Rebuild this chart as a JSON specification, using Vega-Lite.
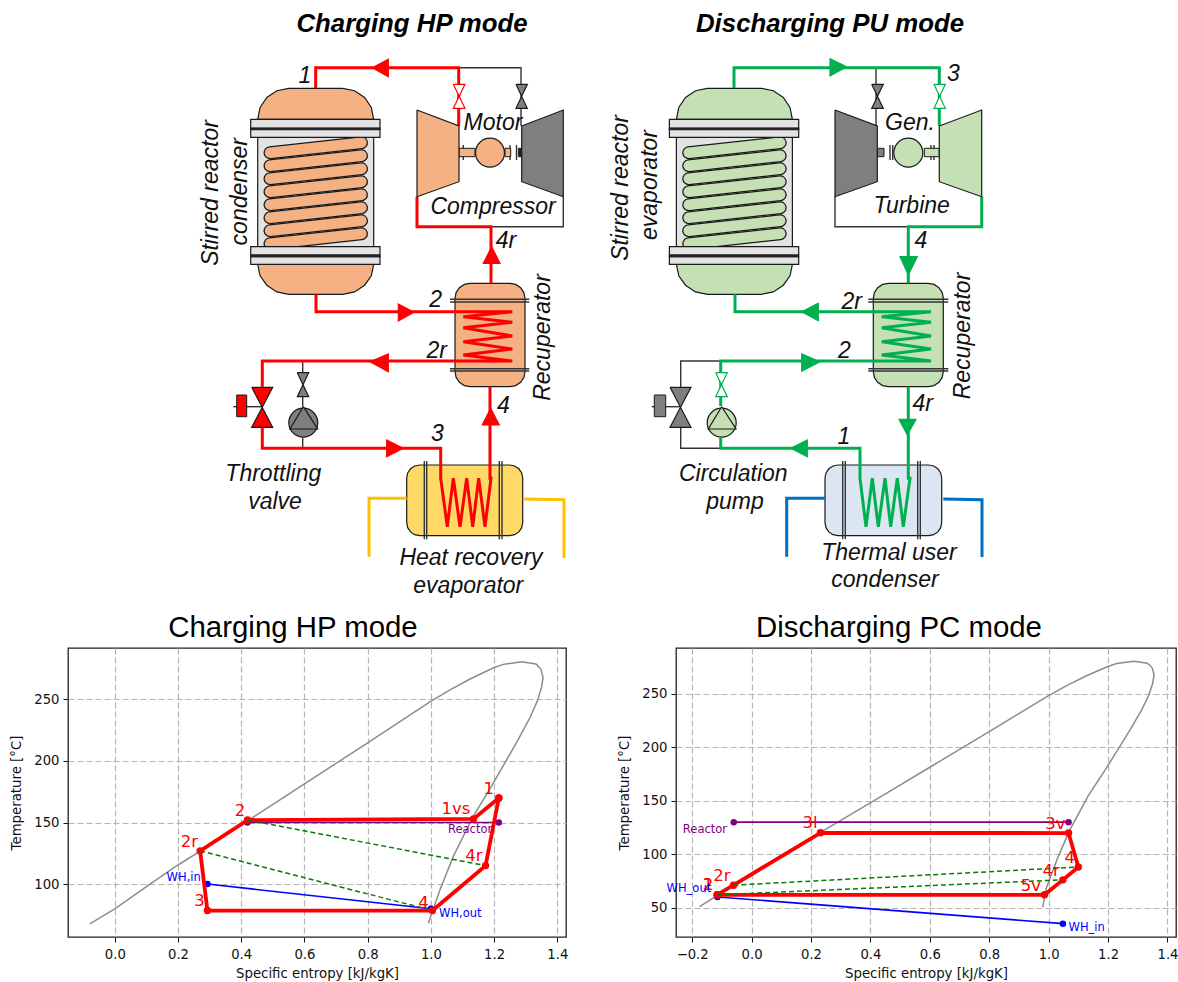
{"$schema":"https://vega.github.io/schema/vega-lite/v6.json","padding":0,"bounds":"flush","spacing":38,
"config":{"view":{"stroke":null},"axis":{"labelFont":"DejaVu Sans","labelFontSize":13.2,"labelColor":"#111","titleFont":"DejaVu Sans","titleFontSize":13.3,"titleFontWeight":"normal","titleColor":"#111","tickColor":"#111","tickSize":5,"domain":false,"grid":true,"gridColor":"#b4b4b4","gridDash":[6,3],"gridWidth":1.2,"labelFlush":false},"axisX":{"labelPadding":6,"titlePadding":6},"axisY":{"labelPadding":4,"titlePadding":10},"title":{"font":"Liberation Sans","fontSize":29.4,"fontWeight":"normal","color":"#000"}},
"datasets":{
"backPolys":[
{"id":"d1","k":"o","i":0,"x":257.7,"y":119.3},{"id":"d1","k":"o","i":1,"x":260.1,"y":107.4},{"id":"d1","k":"o","i":2,"x":266.8,"y":97.4},{"id":"d1","k":"o","i":3,"x":276.8,"y":90.7},{"id":"d1","k":"o","i":4,"x":288.7,"y":88.3},{"id":"d1","k":"o","i":5,"x":342.7,"y":88.3},{"id":"d1","k":"o","i":6,"x":354.6,"y":90.7},{"id":"d1","k":"o","i":7,"x":364.6,"y":97.4},{"id":"d1","k":"o","i":8,"x":371.3,"y":107.4},{"id":"d1","k":"o","i":9,"x":373.7,"y":119.3},{"id":"d1","k":"o","i":10,"x":257.7,"y":119.3},
{"id":"d2","k":"o","i":0,"x":257.7,"y":264.3},{"id":"d2","k":"o","i":1,"x":260.1,"y":275.8},{"id":"d2","k":"o","i":2,"x":266.8,"y":285.2},{"id":"d2","k":"o","i":3,"x":276.8,"y":291.9},{"id":"d2","k":"o","i":4,"x":288.7,"y":294.3},{"id":"d2","k":"o","i":5,"x":342.7,"y":294.3},{"id":"d2","k":"o","i":6,"x":354.6,"y":291.9},{"id":"d2","k":"o","i":7,"x":364.6,"y":285.2},{"id":"d2","k":"o","i":8,"x":371.3,"y":275.8},{"id":"d2","k":"o","i":9,"x":373.7,"y":264.3},{"id":"d2","k":"o","i":10,"x":257.7,"y":264.3},
{"id":"d3","k":"g","i":0,"x":676.4,"y":119.3},{"id":"d3","k":"g","i":1,"x":678.8,"y":107.4},{"id":"d3","k":"g","i":2,"x":685.5,"y":97.4},{"id":"d3","k":"g","i":3,"x":695.5,"y":90.7},{"id":"d3","k":"g","i":4,"x":707.4,"y":88.3},{"id":"d3","k":"g","i":5,"x":761.4,"y":88.3},{"id":"d3","k":"g","i":6,"x":773.3,"y":90.7},{"id":"d3","k":"g","i":7,"x":783.3,"y":97.4},{"id":"d3","k":"g","i":8,"x":790,"y":107.4},{"id":"d3","k":"g","i":9,"x":792.4,"y":119.3},{"id":"d3","k":"g","i":10,"x":676.4,"y":119.3},
{"id":"d4","k":"g","i":0,"x":676.4,"y":264.3},{"id":"d4","k":"g","i":1,"x":678.8,"y":275.8},{"id":"d4","k":"g","i":2,"x":685.5,"y":285.2},{"id":"d4","k":"g","i":3,"x":695.5,"y":291.9},{"id":"d4","k":"g","i":4,"x":707.4,"y":294.3},{"id":"d4","k":"g","i":5,"x":761.4,"y":294.3},{"id":"d4","k":"g","i":6,"x":773.3,"y":291.9},{"id":"d4","k":"g","i":7,"x":783.3,"y":285.2},{"id":"d4","k":"g","i":8,"x":790,"y":275.8},{"id":"d4","k":"g","i":9,"x":792.4,"y":264.3},{"id":"d4","k":"g","i":10,"x":676.4,"y":264.3},
{"id":"r1","k":"o","i":0,"x":455,"y":298.3},{"id":"r1","k":"o","i":1,"x":456.1,"y":292.6},{"id":"r1","k":"o","i":2,"x":459.4,"y":287.7},{"id":"r1","k":"o","i":3,"x":464.3,"y":284.4},{"id":"r1","k":"o","i":4,"x":470,"y":283.3},{"id":"r1","k":"o","i":5,"x":510,"y":283.3},{"id":"r1","k":"o","i":6,"x":515.7,"y":284.4},{"id":"r1","k":"o","i":7,"x":520.6,"y":287.7},{"id":"r1","k":"o","i":8,"x":523.9,"y":292.6},{"id":"r1","k":"o","i":9,"x":525,"y":298.3},{"id":"r1","k":"o","i":10,"x":525,"y":371.7},{"id":"r1","k":"o","i":11,"x":523.9,"y":377.4},{"id":"r1","k":"o","i":12,"x":520.6,"y":382.3},{"id":"r1","k":"o","i":13,"x":515.7,"y":385.6},{"id":"r1","k":"o","i":14,"x":510,"y":386.7},{"id":"r1","k":"o","i":15,"x":470,"y":386.7},{"id":"r1","k":"o","i":16,"x":464.3,"y":385.6},{"id":"r1","k":"o","i":17,"x":459.4,"y":382.3},{"id":"r1","k":"o","i":18,"x":456.1,"y":377.4},{"id":"r1","k":"o","i":19,"x":455,"y":371.7},{"id":"r1","k":"o","i":20,"x":455,"y":298.3},
{"id":"r2","k":"g","i":0,"x":873.3,"y":298.3},{"id":"r2","k":"g","i":1,"x":874.4,"y":292.6},{"id":"r2","k":"g","i":2,"x":877.7,"y":287.7},{"id":"r2","k":"g","i":3,"x":882.6,"y":284.4},{"id":"r2","k":"g","i":4,"x":888.3,"y":283.3},{"id":"r2","k":"g","i":5,"x":928.3,"y":283.3},{"id":"r2","k":"g","i":6,"x":934,"y":284.4},{"id":"r2","k":"g","i":7,"x":938.9,"y":287.7},{"id":"r2","k":"g","i":8,"x":942.2,"y":292.6},{"id":"r2","k":"g","i":9,"x":943.3,"y":298.3},{"id":"r2","k":"g","i":10,"x":943.3,"y":371.7},{"id":"r2","k":"g","i":11,"x":942.2,"y":377.4},{"id":"r2","k":"g","i":12,"x":938.9,"y":382.3},{"id":"r2","k":"g","i":13,"x":934,"y":385.6},{"id":"r2","k":"g","i":14,"x":928.3,"y":386.7},{"id":"r2","k":"g","i":15,"x":888.3,"y":386.7},{"id":"r2","k":"g","i":16,"x":882.6,"y":385.6},{"id":"r2","k":"g","i":17,"x":877.7,"y":382.3},{"id":"r2","k":"g","i":18,"x":874.4,"y":377.4},{"id":"r2","k":"g","i":19,"x":873.3,"y":371.7},{"id":"r2","k":"g","i":20,"x":873.3,"y":298.3},
{"id":"e1","k":"y","i":0,"x":406.7,"y":478},{"id":"e1","k":"y","i":1,"x":407.7,"y":473},{"id":"e1","k":"y","i":2,"x":410.5,"y":468.8},{"id":"e1","k":"y","i":3,"x":414.7,"y":466},{"id":"e1","k":"y","i":4,"x":419.7,"y":465},{"id":"e1","k":"y","i":5,"x":509.7,"y":465},{"id":"e1","k":"y","i":6,"x":514.7,"y":466},{"id":"e1","k":"y","i":7,"x":518.9,"y":468.8},{"id":"e1","k":"y","i":8,"x":521.7,"y":473},{"id":"e1","k":"y","i":9,"x":522.7,"y":478},{"id":"e1","k":"y","i":10,"x":522.7,"y":522.7},{"id":"e1","k":"y","i":11,"x":521.7,"y":527.7},{"id":"e1","k":"y","i":12,"x":518.9,"y":531.9},{"id":"e1","k":"y","i":13,"x":514.7,"y":534.7},{"id":"e1","k":"y","i":14,"x":509.7,"y":535.7},{"id":"e1","k":"y","i":15,"x":419.7,"y":535.7},{"id":"e1","k":"y","i":16,"x":414.7,"y":534.7},{"id":"e1","k":"y","i":17,"x":410.5,"y":531.9},{"id":"e1","k":"y","i":18,"x":407.7,"y":527.7},{"id":"e1","k":"y","i":19,"x":406.7,"y":522.7},{"id":"e1","k":"y","i":20,"x":406.7,"y":478},
{"id":"e2","k":"b","i":0,"x":825,"y":478},{"id":"e2","k":"b","i":1,"x":826,"y":473},{"id":"e2","k":"b","i":2,"x":828.8,"y":468.8},{"id":"e2","k":"b","i":3,"x":833,"y":466},{"id":"e2","k":"b","i":4,"x":838,"y":465},{"id":"e2","k":"b","i":5,"x":928.7,"y":465},{"id":"e2","k":"b","i":6,"x":933.7,"y":466},{"id":"e2","k":"b","i":7,"x":937.9,"y":468.8},{"id":"e2","k":"b","i":8,"x":940.7,"y":473},{"id":"e2","k":"b","i":9,"x":941.7,"y":478},{"id":"e2","k":"b","i":10,"x":941.7,"y":522.7},{"id":"e2","k":"b","i":11,"x":940.7,"y":527.7},{"id":"e2","k":"b","i":12,"x":937.9,"y":531.9},{"id":"e2","k":"b","i":13,"x":933.7,"y":534.7},{"id":"e2","k":"b","i":14,"x":928.7,"y":535.7},{"id":"e2","k":"b","i":15,"x":838,"y":535.7},{"id":"e2","k":"b","i":16,"x":833,"y":534.7},{"id":"e2","k":"b","i":17,"x":828.8,"y":531.9},{"id":"e2","k":"b","i":18,"x":826,"y":527.7},{"id":"e2","k":"b","i":19,"x":825,"y":522.7},{"id":"e2","k":"b","i":20,"x":825,"y":478}
],
"bodies":[{"x":257.7,"x2":373.7,"y":137,"y2":247,"k":"l"},{"x":676.4,"x2":792.4,"y":137,"y2":247,"k":"l"}],
"coils":[
{"id":"c0","k":"o","i":0,"x":270,"y":152.7},{"id":"c0","k":"o","i":1,"x":361.5,"y":142.7},{"id":"c1","k":"o","i":0,"x":270,"y":165.7},{"id":"c1","k":"o","i":1,"x":361.5,"y":155.7},{"id":"c2","k":"o","i":0,"x":270,"y":178.7},{"id":"c2","k":"o","i":1,"x":361.5,"y":168.7},{"id":"c3","k":"o","i":0,"x":270,"y":191.7},{"id":"c3","k":"o","i":1,"x":361.5,"y":181.7},{"id":"c4","k":"o","i":0,"x":270,"y":204.7},{"id":"c4","k":"o","i":1,"x":361.5,"y":194.7},{"id":"c5","k":"o","i":0,"x":270,"y":217.7},{"id":"c5","k":"o","i":1,"x":361.5,"y":207.7},{"id":"c6","k":"o","i":0,"x":270,"y":230.7},{"id":"c6","k":"o","i":1,"x":361.5,"y":220.7},{"id":"c7","k":"o","i":0,"x":270,"y":243.7},{"id":"c7","k":"o","i":1,"x":361.5,"y":233.7},
{"id":"g0","k":"g","i":0,"x":688.7,"y":152.7},{"id":"g0","k":"g","i":1,"x":780.2,"y":142.7},{"id":"g1","k":"g","i":0,"x":688.7,"y":165.7},{"id":"g1","k":"g","i":1,"x":780.2,"y":155.7},{"id":"g2","k":"g","i":0,"x":688.7,"y":178.7},{"id":"g2","k":"g","i":1,"x":780.2,"y":168.7},{"id":"g3","k":"g","i":0,"x":688.7,"y":191.7},{"id":"g3","k":"g","i":1,"x":780.2,"y":181.7},{"id":"g4","k":"g","i":0,"x":688.7,"y":204.7},{"id":"g4","k":"g","i":1,"x":780.2,"y":194.7},{"id":"g5","k":"g","i":0,"x":688.7,"y":217.7},{"id":"g5","k":"g","i":1,"x":780.2,"y":207.7},{"id":"g6","k":"g","i":0,"x":688.7,"y":230.7},{"id":"g6","k":"g","i":1,"x":780.2,"y":220.7},{"id":"g7","k":"g","i":0,"x":688.7,"y":243.7},{"id":"g7","k":"g","i":1,"x":780.2,"y":233.7}
],
"flanges":[
{"x":250.7,"x2":380,"y":119.3,"y2":128.3,"k":"l"},{"x":250.7,"x2":380,"y":129.3,"y2":137.3,"k":"l"},{"x":250.7,"x2":380,"y":128,"y2":129.6,"k":"d"},{"x":250.7,"x2":380,"y":246.7,"y2":255,"k":"l"},{"x":250.7,"x2":380,"y":256.7,"y2":264.3,"k":"l"},{"x":250.7,"x2":380,"y":255,"y2":256.7,"k":"d"},
{"x":669.4,"x2":798.7,"y":119.3,"y2":128.3,"k":"l"},{"x":669.4,"x2":798.7,"y":129.3,"y2":137.3,"k":"l"},{"x":669.4,"x2":798.7,"y":128,"y2":129.6,"k":"d"},{"x":669.4,"x2":798.7,"y":246.7,"y2":255,"k":"l"},{"x":669.4,"x2":798.7,"y":256.7,"y2":264.3,"k":"l"},{"x":669.4,"x2":798.7,"y":255,"y2":256.7,"k":"d"}
],
"thin":[
{"id":"a","i":0,"x":458.7,"y":67.7},{"id":"a","i":1,"x":521,"y":67.7},{"id":"a","i":2,"x":521,"y":126},
{"id":"b","i":0,"x":491,"y":226.7},{"id":"b","i":1,"x":563.3,"y":226.7},{"id":"b","i":2,"x":563.3,"y":196.7},
{"id":"c","i":0,"x":302.7,"y":361},{"id":"c","i":1,"x":302.7,"y":406.7},
{"id":"d","i":0,"x":302.7,"y":438},{"id":"d","i":1,"x":302.7,"y":448.3},
{"id":"e","i":0,"x":233.3,"y":406.7},{"id":"e","i":1,"x":262.3,"y":406.7},
{"id":"f","i":0,"x":463.3,"y":145},{"id":"f","i":1,"x":463.3,"y":160},
{"id":"g","i":0,"x":510,"y":145},{"id":"g","i":1,"x":510,"y":160},
{"id":"h","i":0,"x":516.5,"y":145},{"id":"h","i":1,"x":516.5,"y":160},
{"id":"j","i":0,"x":450,"y":299.3},{"id":"j","i":1,"x":529.3,"y":299.3},
{"id":"k","i":0,"x":450,"y":302},{"id":"k","i":1,"x":529.3,"y":302},
{"id":"l","i":0,"x":450,"y":368.7},{"id":"l","i":1,"x":529.3,"y":368.7},
{"id":"m","i":0,"x":450,"y":371},{"id":"m","i":1,"x":529.3,"y":371},
{"id":"n","i":0,"x":424.3,"y":461},{"id":"n","i":1,"x":424.3,"y":539.3},
{"id":"o","i":0,"x":426.7,"y":461},{"id":"o","i":1,"x":426.7,"y":539.3},
{"id":"p","i":0,"x":499.3,"y":461},{"id":"p","i":1,"x":499.3,"y":539.3},
{"id":"q","i":0,"x":502,"y":461},{"id":"q","i":1,"x":502,"y":539.3},
{"id":"A","i":0,"x":876,"y":67.7},{"id":"A","i":1,"x":876,"y":126},
{"id":"B","i":0,"x":835,"y":196.7},{"id":"B","i":1,"x":835,"y":226.7},{"id":"B","i":2,"x":908.3,"y":226.7},
{"id":"C","i":0,"x":720.7,"y":361},{"id":"C","i":1,"x":680.7,"y":361},{"id":"C","i":2,"x":680.7,"y":387},
{"id":"D","i":0,"x":680.7,"y":427},{"id":"D","i":1,"x":680.7,"y":448.3},{"id":"D","i":2,"x":720.7,"y":448.3},
{"id":"E","i":0,"x":651.7,"y":406.7},{"id":"E","i":1,"x":680.7,"y":406.7},
{"id":"F","i":0,"x":890,"y":145},{"id":"F","i":1,"x":890,"y":160},
{"id":"G","i":0,"x":892.7,"y":145},{"id":"G","i":1,"x":892.7,"y":160},
{"id":"H","i":0,"x":931,"y":145},{"id":"H","i":1,"x":931,"y":160},
{"id":"I","i":0,"x":934,"y":145},{"id":"I","i":1,"x":934,"y":160},
{"id":"J","i":0,"x":868.3,"y":299.3},{"id":"J","i":1,"x":948.3,"y":299.3},
{"id":"K","i":0,"x":868.3,"y":302},{"id":"K","i":1,"x":948.3,"y":302},
{"id":"L","i":0,"x":868.3,"y":368.7},{"id":"L","i":1,"x":948.3,"y":368.7},
{"id":"M","i":0,"x":868.3,"y":371},{"id":"M","i":1,"x":948.3,"y":371},
{"id":"N","i":0,"x":842.7,"y":461},{"id":"N","i":1,"x":842.7,"y":539.3},
{"id":"O","i":0,"x":845.3,"y":461},{"id":"O","i":1,"x":845.3,"y":539.3},
{"id":"P","i":0,"x":917.7,"y":461},{"id":"P","i":1,"x":917.7,"y":539.3},
{"id":"Q","i":0,"x":920.3,"y":461},{"id":"Q","i":1,"x":920.3,"y":539.3}
],
"pipes":[
{"id":"p1","k":"red","i":0,"x":315.7,"y":88},{"id":"p1","k":"red","i":1,"x":315.7,"y":67.7},{"id":"p1","k":"red","i":2,"x":458.7,"y":67.7},{"id":"p1","k":"red","i":3,"x":458.7,"y":126},
{"id":"p2","k":"red","i":0,"x":417,"y":196.7},{"id":"p2","k":"red","i":1,"x":417,"y":226.7},{"id":"p2","k":"red","i":2,"x":491,"y":226.7},{"id":"p2","k":"red","i":3,"x":491,"y":283.3},
{"id":"p3","k":"red","i":0,"x":316,"y":294.3},{"id":"p3","k":"red","i":1,"x":316,"y":311.7},{"id":"p3","k":"red","i":2,"x":512.3,"y":311.7},{"id":"p3","k":"red","i":3,"x":463.3,"y":316.7},{"id":"p3","k":"red","i":4,"x":512.3,"y":322.3},{"id":"p3","k":"red","i":5,"x":463.3,"y":327.7},{"id":"p3","k":"red","i":6,"x":512.3,"y":336},{"id":"p3","k":"red","i":7,"x":463.3,"y":341.7},{"id":"p3","k":"red","i":8,"x":512.3,"y":349},{"id":"p3","k":"red","i":9,"x":463.3,"y":355},{"id":"p3","k":"red","i":10,"x":512.3,"y":361},{"id":"p3","k":"red","i":11,"x":262.3,"y":361},{"id":"p3","k":"red","i":12,"x":262.3,"y":386.7},
{"id":"p4","k":"red","i":0,"x":262.3,"y":427},{"id":"p4","k":"red","i":1,"x":262.3,"y":448.3},{"id":"p4","k":"red","i":2,"x":440.7,"y":448.3},{"id":"p4","k":"red","i":3,"x":440.7,"y":478.3},{"id":"p4","k":"red","i":4,"x":447.3,"y":526.7},{"id":"p4","k":"red","i":5,"x":453.3,"y":478.3},{"id":"p4","k":"red","i":6,"x":460,"y":526.7},{"id":"p4","k":"red","i":7,"x":466.7,"y":478.3},{"id":"p4","k":"red","i":8,"x":472.7,"y":526.7},{"id":"p4","k":"red","i":9,"x":478.7,"y":478.3},{"id":"p4","k":"red","i":10,"x":485,"y":526.7},{"id":"p4","k":"red","i":11,"x":491,"y":478.3},{"id":"p4","k":"red","i":12,"x":490,"y":478.3},{"id":"p4","k":"red","i":13,"x":490,"y":386.7},
{"id":"y1","k":"yellow","i":0,"x":406.7,"y":498.3},{"id":"y1","k":"yellow","i":1,"x":369,"y":498.3},{"id":"y1","k":"yellow","i":2,"x":369,"y":556.7},
{"id":"y2","k":"yellow","i":0,"x":524.3,"y":499},{"id":"y2","k":"yellow","i":1,"x":564,"y":499.7},{"id":"y2","k":"yellow","i":2,"x":564,"y":558},
{"id":"q1","k":"green","i":0,"x":734,"y":88},{"id":"q1","k":"green","i":1,"x":734,"y":67.7},{"id":"q1","k":"green","i":2,"x":939.3,"y":67.7},{"id":"q1","k":"green","i":3,"x":939.3,"y":126},
{"id":"q2","k":"green","i":0,"x":981.7,"y":196.7},{"id":"q2","k":"green","i":1,"x":981.7,"y":226.7},{"id":"q2","k":"green","i":2,"x":908.3,"y":226.7},{"id":"q2","k":"green","i":3,"x":908.3,"y":283.3},
{"id":"q3","k":"green","i":0,"x":735,"y":294.3},{"id":"q3","k":"green","i":1,"x":735,"y":311.7},{"id":"q3","k":"green","i":2,"x":931,"y":311.7},{"id":"q3","k":"green","i":3,"x":881.7,"y":316.7},{"id":"q3","k":"green","i":4,"x":931,"y":322.3},{"id":"q3","k":"green","i":5,"x":881.7,"y":327.7},{"id":"q3","k":"green","i":6,"x":931,"y":336},{"id":"q3","k":"green","i":7,"x":881.7,"y":341.7},{"id":"q3","k":"green","i":8,"x":931,"y":349},{"id":"q3","k":"green","i":9,"x":881.7,"y":355},{"id":"q3","k":"green","i":10,"x":931,"y":361},{"id":"q3","k":"green","i":11,"x":720.7,"y":361},{"id":"q3","k":"green","i":12,"x":720.7,"y":406},
{"id":"q4","k":"green","i":0,"x":720.7,"y":438},{"id":"q4","k":"green","i":1,"x":720.7,"y":448.3},{"id":"q4","k":"green","i":2,"x":860,"y":448.3},{"id":"q4","k":"green","i":3,"x":860,"y":478.3},{"id":"q4","k":"green","i":4,"x":866,"y":526.7},{"id":"q4","k":"green","i":5,"x":872.3,"y":478.3},{"id":"q4","k":"green","i":6,"x":878.3,"y":526.7},{"id":"q4","k":"green","i":7,"x":885,"y":478.3},{"id":"q4","k":"green","i":8,"x":890.7,"y":526.7},{"id":"q4","k":"green","i":9,"x":897.3,"y":478.3},{"id":"q4","k":"green","i":10,"x":903.3,"y":526.7},{"id":"q4","k":"green","i":11,"x":910,"y":478.3},{"id":"q4","k":"green","i":12,"x":908.3,"y":478.3},{"id":"q4","k":"green","i":13,"x":908.3,"y":386.7},
{"id":"b1","k":"blue","i":0,"x":825,"y":498.3},{"id":"b1","k":"blue","i":1,"x":786.7,"y":498.3},{"id":"b1","k":"blue","i":2,"x":786.7,"y":556.7},
{"id":"b2","k":"blue","i":0,"x":943.3,"y":499},{"id":"b2","k":"blue","i":1,"x":982,"y":499.7},{"id":"b2","k":"blue","i":2,"x":982,"y":557}
],
"smallRects":[
{"x":459,"x2":475,"y":148.3,"y2":156.7,"k":"o"},{"x":505,"x2":510.7,"y":148.3,"y2":156.7,"k":"o"},{"x":518.3,"x2":521.7,"y":148.3,"y2":156.7,"k":"d"},{"x":236.7,"x2":246.7,"y":395,"y2":416.7,"k":"r"},
{"x":877.3,"x2":884,"y":148.3,"y2":156.7,"k":"h"},{"x":924.3,"x2":939.3,"y":148.3,"y2":156.7,"k":"g"},{"x":654.3,"x2":665.7,"y":395,"y2":416.7,"k":"h"}
],
"circles":[{"x":490,"y":152.7,"k":"o"},{"x":303.3,"y":422.7,"k":"h"},{"x":908.3,"y":152.7,"k":"g"},{"x":721.7,"y":422.7,"k":"g"}],
"frontPolys":[
{"id":"t1","k":"o","i":0,"x":417,"y":110},{"id":"t1","k":"o","i":1,"x":459,"y":126},{"id":"t1","k":"o","i":2,"x":459,"y":181.7},{"id":"t1","k":"o","i":3,"x":417,"y":196.7},{"id":"t1","k":"o","i":4,"x":417,"y":110},
{"id":"t2","k":"h","i":0,"x":521.7,"y":126},{"id":"t2","k":"h","i":1,"x":563.3,"y":110},{"id":"t2","k":"h","i":2,"x":563.3,"y":196.7},{"id":"t2","k":"h","i":3,"x":521.7,"y":181.7},{"id":"t2","k":"h","i":4,"x":521.7,"y":126},
{"id":"t3","k":"h","i":0,"x":835,"y":110},{"id":"t3","k":"h","i":1,"x":877.3,"y":126},{"id":"t3","k":"h","i":2,"x":877.3,"y":181.7},{"id":"t3","k":"h","i":3,"x":835,"y":196.7},{"id":"t3","k":"h","i":4,"x":835,"y":110},
{"id":"t4","k":"g","i":0,"x":939.3,"y":126},{"id":"t4","k":"g","i":1,"x":981.7,"y":110},{"id":"t4","k":"g","i":2,"x":981.7,"y":196.7},{"id":"t4","k":"g","i":3,"x":939.3,"y":181.7},{"id":"t4","k":"g","i":4,"x":939.3,"y":126},
{"id":"v1","k":"wr","i":0,"x":453.3,"y":84.3},{"id":"v1","k":"wr","i":1,"x":465,"y":84.3},{"id":"v1","k":"wr","i":2,"x":453.3,"y":108.3},{"id":"v1","k":"wr","i":3,"x":465,"y":108.3},{"id":"v1","k":"wr","i":4,"x":453.3,"y":84.3},
{"id":"v2","k":"h","i":0,"x":516,"y":84.3},{"id":"v2","k":"h","i":1,"x":527.3,"y":84.3},{"id":"v2","k":"h","i":2,"x":516,"y":108.3},{"id":"v2","k":"h","i":3,"x":527.3,"y":108.3},{"id":"v2","k":"h","i":4,"x":516,"y":84.3},
{"id":"v3","k":"h","i":0,"x":297.3,"y":372.7},{"id":"v3","k":"h","i":1,"x":308.7,"y":372.7},{"id":"v3","k":"h","i":2,"x":297.3,"y":396.7},{"id":"v3","k":"h","i":3,"x":308.7,"y":396.7},{"id":"v3","k":"h","i":4,"x":297.3,"y":372.7},
{"id":"v4","k":"r","i":0,"x":251.7,"y":387.3},{"id":"v4","k":"r","i":1,"x":272.7,"y":387.3},{"id":"v4","k":"r","i":2,"x":251.7,"y":427.3},{"id":"v4","k":"r","i":3,"x":272.7,"y":427.3},{"id":"v4","k":"r","i":4,"x":251.7,"y":387.3},
{"id":"v5","k":"h","i":0,"x":871.7,"y":84.3},{"id":"v5","k":"h","i":1,"x":883.3,"y":84.3},{"id":"v5","k":"h","i":2,"x":871.7,"y":108.3},{"id":"v5","k":"h","i":3,"x":883.3,"y":108.3},{"id":"v5","k":"h","i":4,"x":871.7,"y":84.3},
{"id":"v6","k":"wg","i":0,"x":934,"y":84.3},{"id":"v6","k":"wg","i":1,"x":945.3,"y":84.3},{"id":"v6","k":"wg","i":2,"x":934,"y":108.3},{"id":"v6","k":"wg","i":3,"x":945.3,"y":108.3},{"id":"v6","k":"wg","i":4,"x":934,"y":84.3},
{"id":"v7","k":"wg","i":0,"x":715.7,"y":372.7},{"id":"v7","k":"wg","i":1,"x":727.3,"y":372.7},{"id":"v7","k":"wg","i":2,"x":715.7,"y":396.7},{"id":"v7","k":"wg","i":3,"x":727.3,"y":396.7},{"id":"v7","k":"wg","i":4,"x":715.7,"y":372.7},
{"id":"v8","k":"h","i":0,"x":670,"y":387.3},{"id":"v8","k":"h","i":1,"x":691,"y":387.3},{"id":"v8","k":"h","i":2,"x":670,"y":427.3},{"id":"v8","k":"h","i":3,"x":691,"y":427.3},{"id":"v8","k":"h","i":4,"x":670,"y":387.3},
{"id":"u1","k":"h","i":0,"x":303.3,"y":406.7},{"id":"u1","k":"h","i":1,"x":290,"y":429},{"id":"u1","k":"h","i":2,"x":317.7,"y":429},{"id":"u1","k":"h","i":3,"x":303.3,"y":406.7},
{"id":"u2","k":"g","i":0,"x":721.7,"y":406.7},{"id":"u2","k":"g","i":1,"x":708.3,"y":429},{"id":"u2","k":"g","i":2,"x":736,"y":429},{"id":"u2","k":"g","i":3,"x":721.7,"y":406.7},
{"id":"a1","k":"ar","i":0,"x":372.3,"y":67.7},{"id":"a1","k":"ar","i":1,"x":388.3,"y":59.3},{"id":"a1","k":"ar","i":2,"x":388.3,"y":76.7},{"id":"a1","k":"ar","i":3,"x":372.3,"y":67.7},
{"id":"a2","k":"ar","i":0,"x":491.7,"y":246.7},{"id":"a2","k":"ar","i":1,"x":483.3,"y":263.3},{"id":"a2","k":"ar","i":2,"x":500,"y":263.3},{"id":"a2","k":"ar","i":3,"x":491.7,"y":246.7},
{"id":"a3","k":"ar","i":0,"x":414,"y":312.3},{"id":"a3","k":"ar","i":1,"x":398.3,"y":304},{"id":"a3","k":"ar","i":2,"x":398.3,"y":321},{"id":"a3","k":"ar","i":3,"x":414,"y":312.3},
{"id":"a4","k":"ar","i":0,"x":370,"y":361.7},{"id":"a4","k":"ar","i":1,"x":388.3,"y":354},{"id":"a4","k":"ar","i":2,"x":388.3,"y":371.7},{"id":"a4","k":"ar","i":3,"x":370,"y":361.7},
{"id":"a5","k":"ar","i":0,"x":403.3,"y":448.3},{"id":"a5","k":"ar","i":1,"x":386.7,"y":440},{"id":"a5","k":"ar","i":2,"x":386.7,"y":456.7},{"id":"a5","k":"ar","i":3,"x":403.3,"y":448.3},
{"id":"a6","k":"ar","i":0,"x":490.7,"y":408.3},{"id":"a6","k":"ar","i":1,"x":482.3,"y":425},{"id":"a6","k":"ar","i":2,"x":499.3,"y":425},{"id":"a6","k":"ar","i":3,"x":490.7,"y":408.3},
{"id":"a7","k":"ag","i":0,"x":846.7,"y":66.7},{"id":"a7","k":"ag","i":1,"x":830,"y":58.7},{"id":"a7","k":"ag","i":2,"x":830,"y":76},{"id":"a7","k":"ag","i":3,"x":846.7,"y":66.7},
{"id":"a8","k":"ag","i":0,"x":908.3,"y":275},{"id":"a8","k":"ag","i":1,"x":900,"y":256.7},{"id":"a8","k":"ag","i":2,"x":917.3,"y":256.7},{"id":"a8","k":"ag","i":3,"x":908.3,"y":275},
{"id":"a9","k":"ag","i":0,"x":801.7,"y":311.7},{"id":"a9","k":"ag","i":1,"x":818.3,"y":303.3},{"id":"a9","k":"ag","i":2,"x":818.3,"y":320.7},{"id":"a9","k":"ag","i":3,"x":801.7,"y":311.7},
{"id":"a10","k":"ag","i":0,"x":820,"y":361.7},{"id":"a10","k":"ag","i":1,"x":801.7,"y":354},{"id":"a10","k":"ag","i":2,"x":801.7,"y":371.3},{"id":"a10","k":"ag","i":3,"x":820,"y":361.7},
{"id":"a11","k":"ag","i":0,"x":790.7,"y":448.3},{"id":"a11","k":"ag","i":1,"x":807.3,"y":440},{"id":"a11","k":"ag","i":2,"x":807.3,"y":456.7},{"id":"a11","k":"ag","i":3,"x":790.7,"y":448.3},
{"id":"a12","k":"ag","i":0,"x":907.3,"y":435},{"id":"a12","k":"ag","i":1,"x":899,"y":419.3},{"id":"a12","k":"ag","i":2,"x":916,"y":419.3},{"id":"a12","k":"ag","i":3,"x":907.3,"y":435}
],
"labels":[
{"x":493,"y":123.3,"t":"Motor"},{"x":493,"y":206.7,"t":"Compressor"},{"x":273.3,"y":474,"t":"Throttling"},{"x":275,"y":501.7,"t":"valve"},{"x":471,"y":557.7,"t":"Heat recovery"},{"x":468.3,"y":585.7,"t":"evaporator"},
{"x":305,"y":76,"t":"1"},{"x":506,"y":241,"t":"4r"},{"x":435.7,"y":300,"t":"2"},{"x":436.7,"y":350.7,"t":"2r"},{"x":503.3,"y":406,"t":"4"},{"x":437.3,"y":434.3,"t":"3"},
{"x":910,"y":123.3,"t":"Gen."},{"x":911.7,"y":206,"t":"Turbine"},{"x":733.3,"y":474,"t":"Circulation"},{"x":735,"y":501.7,"t":"pump"},{"x":889,"y":552.7,"t":"Thermal user"},{"x":885,"y":580,"t":"condenser"},
{"x":953.3,"y":74,"t":"3"},{"x":921,"y":240.7,"t":"4"},{"x":851.7,"y":301.7,"t":"2r"},{"x":844.3,"y":350.7,"t":"2"},{"x":922.7,"y":404,"t":"4r"},{"x":844,"y":436.7,"t":"1"}
],
"rotLabels":[{"x":210.7,"y":193,"t":"Stirred reactor"},{"x":240,"y":191.7,"t":"condenser"},{"x":543,"y":337.5,"t":"Recuperator"},{"x":620.7,"y":188,"t":"Stirred reactor"},{"x":650,"y":185,"t":"evaporator"},{"x":963,"y":336,"t":"Recuperator"}],
"heads":[{"x":412,"y":24,"t":"Charging HP mode"},{"x":830,"y":24,"t":"Discharging PU mode"}],
"dome":[{"s":-0.079,"T":67.6,"i":0},{"s":0.0,"T":79.9,"i":1},{"s":0.116,"T":100.8,"i":2},{"s":0.2,"T":115.5,"i":3},{"s":0.269,"T":126.6,"i":4},{"s":0.459,"T":157.9,"i":5},{"s":0.6,"T":181.4,"i":6},{"s":0.8,"T":214.7,"i":7},{"s":0.997,"T":248,"i":8},{"s":1.0605,"T":257.8,"i":9},{"s":1.124,"T":266.6,"i":10},{"s":1.197,"T":275.5,"i":11},{"s":1.229,"T":278.5,"i":12},{"s":1.287,"T":280.7,"i":13},{"s":1.3326,"T":278.8,"i":14},{"s":1.348,"T":274.7,"i":15},{"s":1.355,"T":267.9,"i":16},{"s":1.35,"T":259.8,"i":17},{"s":1.337,"T":248.8,"i":18},{"s":1.3136,"T":235.3,"i":19},{"s":1.2766,"T":217.6,"i":20},{"s":1.2345,"T":198.6,"i":21},{"s":1.192,"T":179.6,"i":22},{"s":1.134,"T":155.1,"i":23},{"s":1.071,"T":122.5,"i":24},{"s":1.0288,"T":95.4,"i":25},{"s":0.992,"T":68.2,"i":26}],
"domeB":[{"s":-0.175,"T":51,"i":0},{"s":-0.115,"T":61.5,"i":1},{"s":0.0,"T":79.9,"i":2},{"s":0.116,"T":100.8,"i":3},{"s":0.2,"T":115.5,"i":4},{"s":0.269,"T":126.6,"i":5},{"s":0.459,"T":157.9,"i":6},{"s":0.6,"T":181.4,"i":7},{"s":0.8,"T":214.7,"i":8},{"s":0.997,"T":248,"i":9},{"s":1.0605,"T":257.8,"i":10},{"s":1.124,"T":266.6,"i":11},{"s":1.197,"T":275.5,"i":12},{"s":1.229,"T":278.5,"i":13},{"s":1.287,"T":280.7,"i":14},{"s":1.3326,"T":278.8,"i":15},{"s":1.348,"T":274.7,"i":16},{"s":1.355,"T":267.9,"i":17},{"s":1.35,"T":259.8,"i":18},{"s":1.337,"T":248.8,"i":19},{"s":1.3136,"T":235.3,"i":20},{"s":1.2766,"T":217.6,"i":21},{"s":1.2345,"T":198.6,"i":22},{"s":1.192,"T":179.6,"i":23},{"s":1.134,"T":155.1,"i":24},{"s":1.071,"T":122.5,"i":25},{"s":1.0288,"T":95.4,"i":26},{"s":0.992,"T":68.2,"i":27},{"s":0.98,"T":50.5,"i":28}],
"hpReactor":[{"s":0.42,"T":150,"i":0},{"s":1.215,"T":150,"i":1}],
"hpWaste":[{"s":0.293,"T":100,"i":0},{"s":1.0,"T":80,"i":1}],
"hpCycle":[{"s":1.215,"T":170,"i":0},{"s":1.135,"T":153,"i":1},{"s":0.42,"T":152,"i":2},{"s":0.27,"T":127,"i":3},{"s":0.293,"T":78.5,"i":4},{"s":1.005,"T":78.5,"i":5},{"s":1.173,"T":115,"i":6},{"s":1.215,"T":170,"i":7}],
"hpDash":[{"id":"a","s":0.42,"T":152,"i":0},{"id":"a","s":1.173,"T":115,"i":1},{"id":"b","s":0.27,"T":127,"i":0},{"id":"b","s":1.005,"T":78.5,"i":1}],
"hpRed":[{"s":1.183,"T":177.4,"t":"1"},{"s":1.079,"T":160.6,"t":"1vs"},{"s":0.396,"T":159,"t":"2"},{"s":0.236,"T":134,"t":"2r"},{"s":0.268,"T":86,"t":"3"},{"s":0.977,"T":85,"t":"4"},{"s":1.136,"T":123,"t":"4r"}],
"pcReactor":[{"s":-0.06,"T":130,"i":0},{"s":1.067,"T":130,"i":1}],
"pcWaste":[{"s":-0.115,"T":60,"i":0},{"s":1.048,"T":35,"i":1}],
"pcCycle":[{"s":-0.116,"T":62,"i":0},{"s":-0.061,"T":71,"i":1},{"s":0.232,"T":120,"i":2},{"s":1.067,"T":119.8,"i":3},{"s":1.1,"T":88,"i":4},{"s":1.048,"T":76,"i":5},{"s":0.986,"T":62,"i":6},{"s":-0.116,"T":62,"i":7}],
"pcDash":[{"id":"a","s":-0.061,"T":71,"i":0},{"id":"a","s":1.1,"T":88,"i":1},{"id":"b","s":-0.116,"T":62,"i":0},{"id":"b","s":1.048,"T":76,"i":1}],
"pcRed":[{"s":0.197,"T":129.5,"t":"3l"},{"s":1.023,"T":128.5,"t":"3v"},{"s":1.071,"T":96.4,"t":"4"},{"s":1.008,"T":84,"t":"4r"},{"s":0.94,"T":70,"t":"5v"},{"s":-0.1,"T":80,"t":"2r"},{"s":-0.147,"T":71,"t":"1"},{"s":-0.147,"T":71,"t":"2"}]
},
"vconcat":[
{"width":1178,"height":610,
"encoding":{"x":{"field":"x","type":"quantitative","scale":{"domain":[0,1178],"nice":false,"zero":false},"axis":null},"y":{"field":"y","type":"quantitative","scale":{"domain":[610,0],"nice":false,"zero":false},"axis":null}},
"layer":[
{"data":{"name":"backPolys"},"mark":{"type":"line","strokeWidth":1.2},"encoding":{"order":{"field":"i"},"detail":{"field":"id"},"fill":{"field":"k","legend":null,"scale":{"domain":["o","g","h","y","b","l","d","r","wr","wg","ar","ag"],"range":["#f4b183","#c5e0b4","#7f7f7f","#ffd966","#dce6f2","#e3e3e3","#222222","#ff0000","#ffffff","#ffffff","#ff0000","#00b050"]}},"stroke":{"field":"k","legend":null,"scale":{"domain":["o","g","h","y","b","l","d","r","wr","wg","ar","ag"],"range":["#1a1a1a","#1a1a1a","#1a1a1a","#1a1a1a","#1a1a1a","#1a1a1a","#222222","#1a1a1a","#ff0000","#00b050","#ff0000","#00b050"]}}}},
{"data":{"name":"bodies"},"mark":{"type":"rect","strokeWidth":1.2},"encoding":{"x2":{"field":"x2"},"y2":{"field":"y2"},"fill":{"field":"k","legend":null},"stroke":{"field":"k","legend":null}}},
{"data":{"name":"coils"},"mark":{"type":"line","strokeWidth":13,"strokeCap":"round","color":"#1a1a1a"},"encoding":{"order":{"field":"i"},"detail":{"field":"id"}}},
{"data":{"name":"coils"},"mark":{"type":"line","strokeWidth":10.5,"strokeCap":"round"},"encoding":{"order":{"field":"i"},"detail":{"field":"id"},"color":{"field":"k","legend":null,"scale":{"domain":["red","green","yellow","blue","o","g"],"range":["#ff0000","#00b050","#ffc000","#0070c0","#f4b183","#c5e0b4"]}}}},
{"data":{"name":"flanges"},"mark":{"type":"rect","strokeWidth":1.2},"encoding":{"x2":{"field":"x2"},"y2":{"field":"y2"},"fill":{"field":"k","legend":null},"stroke":{"field":"k","legend":null}}},
{"data":{"name":"thin"},"mark":{"type":"line","strokeWidth":1.4,"color":"#333333"},"encoding":{"order":{"field":"i"},"detail":{"field":"id"}}},
{"data":{"name":"pipes"},"mark":{"type":"line","strokeWidth":3},"encoding":{"order":{"field":"i"},"detail":{"field":"id"},"color":{"field":"k","legend":null}}},
{"data":{"name":"smallRects"},"mark":{"type":"rect","strokeWidth":1},"encoding":{"x2":{"field":"x2"},"y2":{"field":"y2"},"fill":{"field":"k","legend":null},"stroke":{"field":"k","legend":null}}},
{"data":{"name":"circles"},"mark":{"type":"point","shape":"circle","filled":true,"size":840,"opacity":1,"stroke":"#1a1a1a","strokeWidth":1.2},"encoding":{"fill":{"field":"k","legend":null}}},
{"data":{"name":"frontPolys"},"mark":{"type":"line","strokeWidth":1.2},"encoding":{"order":{"field":"i"},"detail":{"field":"id"},"fill":{"field":"k","legend":null},"stroke":{"field":"k","legend":null}}},
{"data":{"name":"labels"},"mark":{"type":"text","font":"Liberation Sans","fontStyle":"italic","fontSize":23,"color":"#111"},"encoding":{"text":{"field":"t"}}},
{"data":{"name":"rotLabels"},"mark":{"type":"text","font":"Liberation Sans","fontStyle":"italic","fontSize":23,"angle":270,"color":"#111"},"encoding":{"text":{"field":"t"}}},
{"data":{"name":"heads"},"mark":{"type":"text","font":"Liberation Sans","fontStyle":"italic","fontWeight":"bold","fontSize":25.8,"color":"#000"},"encoding":{"text":{"field":"t"}}}
]},
{"hconcat":[
{"width":68,"height":10,"data":{"values":[]},"mark":"point"},
{"width":498,"height":289,"view":{"stroke":"#222","strokeWidth":1.3},
"title":{"text":"Charging HP mode","dx":-24,"offset":5},
"encoding":{"x":{"field":"s","type":"quantitative","scale":{"domain":[-0.148,1.4275],"nice":false,"zero":false},"axis":{"title":"Specific entropy [kJ/kgK]","values":[0,0.2,0.4,0.6,0.8,1,1.2,1.4],"format":".1f"}},"y":{"field":"T","type":"quantitative","scale":{"domain":[57,291.8],"nice":false,"zero":false},"axis":{"title":"Temperature [°C]","values":[100,150,200,250]}}},
"layer":[
{"data":{"name":"dome"},"mark":{"type":"line","color":"#8c8c8c","strokeWidth":1.5},"encoding":{"order":{"field":"i"}}},
{"data":{"name":"hpReactor"},"mark":{"type":"line","color":"#800080","strokeWidth":1.6,"point":{"filled":true,"size":42,"color":"#800080"}},"encoding":{"order":{"field":"i"}}},
{"data":{"name":"hpWaste"},"mark":{"type":"line","color":"#0000ff","strokeWidth":1.6,"point":{"filled":true,"size":42,"color":"#0000ff"}},"encoding":{"order":{"field":"i"}}},
{"data":{"name":"hpCycle"},"mark":{"type":"line","color":"#ff0000","strokeWidth":3.8,"point":{"filled":true,"size":55,"color":"#ff0000"}},"encoding":{"order":{"field":"i"}}},
{"data":{"name":"hpDash"},"mark":{"type":"line","color":"#008000","strokeWidth":1.5,"strokeDash":[5,3]},"encoding":{"order":{"field":"i"},"detail":{"field":"id"}}},
{"data":{"name":"hpRed"},"mark":{"type":"text","font":"DejaVu Sans","fontSize":16.5,"color":"#ff0000"},"encoding":{"text":{"field":"t"}}},
{"data":{"values":[{"s":1.124,"T":144,"t":"Reactor"}]},"mark":{"type":"text","font":"DejaVu Sans","fontSize":11.5,"color":"#800080"},"encoding":{"text":{"field":"t"}}},
{"data":{"values":[{"s":0.218,"T":105,"t":"WH,in"},{"s":1.093,"T":76,"t":"WH,out"}]},"mark":{"type":"text","font":"DejaVu Sans","fontSize":11.5,"color":"#0000ff"},"encoding":{"text":{"field":"t"}}}
]},
{"width":110,"height":10,"data":{"values":[]},"mark":"point"},
{"width":500,"height":289,"view":{"stroke":"#222","strokeWidth":1.3},
"title":{"text":"Discharging PC mode","dx":-27,"offset":5},
"encoding":{"x":{"field":"s","type":"quantitative","scale":{"domain":[-0.2544,1.4287],"nice":false,"zero":false},"axis":{"title":"Specific entropy [kJ/kgK]","values":[-0.2,0,0.2,0.4,0.6,0.8,1,1.2,1.4],"format":".1f"}},"y":{"field":"T","type":"quantitative","scale":{"domain":[22.5,293],"nice":false,"zero":false},"axis":{"title":"Temperature [°C]","values":[50,100,150,200,250]}}},
"layer":[
{"data":{"name":"domeB"},"mark":{"type":"line","color":"#8c8c8c","strokeWidth":1.5},"encoding":{"order":{"field":"i"}}},
{"data":{"name":"pcReactor"},"mark":{"type":"line","color":"#800080","strokeWidth":1.6,"point":{"filled":true,"size":42,"color":"#800080"}},"encoding":{"order":{"field":"i"}}},
{"data":{"name":"pcWaste"},"mark":{"type":"line","color":"#0000ff","strokeWidth":1.6,"point":{"filled":true,"size":42,"color":"#0000ff"}},"encoding":{"order":{"field":"i"}}},
{"data":{"name":"pcCycle"},"mark":{"type":"line","color":"#ff0000","strokeWidth":3.8,"point":{"filled":true,"size":55,"color":"#ff0000"}},"encoding":{"order":{"field":"i"}}},
{"data":{"name":"pcDash"},"mark":{"type":"line","color":"#008000","strokeWidth":1.5,"strokeDash":[5,3]},"encoding":{"order":{"field":"i"},"detail":{"field":"id"}}},
{"data":{"name":"pcRed"},"mark":{"type":"text","font":"DejaVu Sans","fontSize":16.5,"color":"#ff0000"},"encoding":{"text":{"field":"t"}}},
{"data":{"values":[{"s":-0.157,"T":123,"t":"Reactor"}]},"mark":{"type":"text","font":"DejaVu Sans","fontSize":11.5,"color":"#800080"},"encoding":{"text":{"field":"t"}}},
{"data":{"values":[{"s":-0.211,"T":67,"t":"WH_out"},{"s":1.128,"T":31,"t":"WH_in"}]},"mark":{"type":"text","font":"DejaVu Sans","fontSize":11.5,"color":"#0000ff"},"encoding":{"text":{"field":"t"}}}
]}
],"spacing":0,"bounds":"flush"}
]}
